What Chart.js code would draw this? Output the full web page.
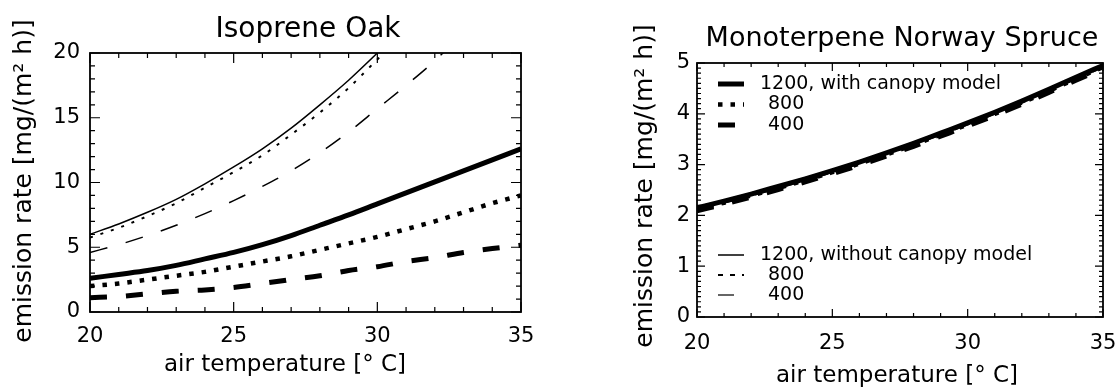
<!DOCTYPE html>
<html>
<head>
<meta charset="utf-8">
<script src="https://cdn.jsdelivr.net/npm/chart.js@4.4.1/dist/chart.umd.min.js"></script>
<style>
  body { margin: 0; background: #fff; width: 1116px; height: 389px; overflow: hidden; position: relative; }
  canvas { position: absolute; top: 0; }
  #oak { left: 0; }
  #spruce { left: 600px; }
</style>
</head>
<body>
<canvas id="oak" width="560" height="389"></canvas>
<canvas id="spruce" width="516" height="389"></canvas>
<script>
// air temperature [°C]
const temps = [20, 21, 22, 23, 24, 25, 26, 27, 28, 29, 30, 31, 32, 33, 34, 35];
const xTicks = [20, 25, 30, 35];

// Isoprene Oak, emission rate [mg/(m2 h)] (thin lines leave the plot at 20)
const oakWith1200 = [2.6, 2.9, 3.2, 3.6, 4.1, 4.6, 5.2, 5.9, 6.7, 7.5, 8.35, 9.2, 10.05, 10.9, 11.75, 12.6];
const oakWith800  = [2.0, 2.2, 2.5, 2.8, 3.1, 3.5, 3.9, 4.3, 4.8, 5.3, 5.8, 6.4, 7.0, 7.7, 8.4, 9.0];
const oakWith400  = [1.1, 1.2, 1.4, 1.6, 1.7, 1.9, 2.2, 2.5, 2.8, 3.2, 3.5, 3.9, 4.2, 4.6, 4.9, 5.15];
const oakWithout1200 = [6.0, 6.8, 7.7, 8.7, 9.9, 11.2, 12.6, 14.2, 16.0, 17.9, 20.0, 22.2, null, null, null, null];
const oakWithout800  = [5.75, 6.5, 7.4, 8.4, 9.6, 10.8, 12.1, 13.7, 15.4, 17.3, 19.5, 21.7, null, null, null, null];
const oakWithout400  = [4.6, 5.2, 5.9, 6.7, 7.6, 8.6, 9.7, 10.9, 12.3, 13.9, 15.7, 17.5, 19.4, 21.6, null, null];

// Monoterpene Norway Spruce
const spruceWith1200 = [2.15, 2.28, 2.42, 2.57, 2.72, 2.88, 3.05, 3.23, 3.42, 3.62, 3.82, 4.03, 4.25, 4.48, 4.72, 4.95];
const spruceWith800  = [2.12, 2.25, 2.39, 2.54, 2.69, 2.85, 3.02, 3.20, 3.39, 3.59, 3.79, 4.00, 4.22, 4.45, 4.69, 4.92];
const spruceWith400  = [2.09, 2.22, 2.36, 2.51, 2.66, 2.82, 2.99, 3.17, 3.36, 3.56, 3.76, 3.97, 4.19, 4.42, 4.66, 4.89];
const spruceWithout1200 = [2.17, 2.30, 2.44, 2.59, 2.74, 2.90, 3.07, 3.25, 3.44, 3.64, 3.84, 4.05, 4.27, 4.50, 4.74, 4.97];
const spruceWithout800  = [2.14, 2.27, 2.41, 2.56, 2.71, 2.87, 3.04, 3.22, 3.41, 3.61, 3.81, 4.02, 4.24, 4.47, 4.71, 4.94];
const spruceWithout400  = [2.11, 2.24, 2.38, 2.53, 2.68, 2.84, 3.01, 3.19, 3.38, 3.58, 3.78, 3.99, 4.21, 4.44, 4.68, 4.91];

const FONT = '"DejaVu Sans", sans-serif';
Chart.defaults.font.family = FONT;
Chart.defaults.color = '#000';

function line(label, ys, width, dash) {
  return {
    label: label,
    data: temps.map((t, i) => ({ x: t, y: ys[i] })),
    borderColor: '#000',
    borderWidth: width,
    borderDash: dash || [],
    borderCapStyle: 'butt',
    pointRadius: 0,
    cubicInterpolationMode: 'monotone',
    fill: false,
    clip: 0
  };
}

// box round the plot with inward ticks on all four sides
const framePlugin = {
  id: 'frame',
  afterDatasetsDraw(chart, args, o) {
    const { ctx, chartArea: a, scales: { x, y } } = chart;
    ctx.save();
    ctx.strokeStyle = '#000';
    ctx.lineWidth = 1.2;
    ctx.beginPath();
    const n = Math.round((x.max - x.min) / o.xMinor);
    for (let i = 0; i <= n; i++) {
      const v = x.min + i * o.xMinor;
      const px = x.getPixelForValue(v);
      const len = Math.abs(v / o.xMajor - Math.round(v / o.xMajor)) < 1e-6 ? o.major : o.minor;
      ctx.moveTo(px, a.bottom); ctx.lineTo(px, a.bottom - len);
      ctx.moveTo(px, a.top); ctx.lineTo(px, a.top + len);
    }
    const m = Math.round((y.max - y.min) / o.yMinor);
    for (let i = 0; i <= m; i++) {
      const v = y.min + i * o.yMinor;
      const py = y.getPixelForValue(v);
      const len = Math.abs(v / o.yMajor - Math.round(v / o.yMajor)) < 1e-6 ? o.major : o.minor;
      ctx.moveTo(a.left, py); ctx.lineTo(a.left + len, py);
      ctx.moveTo(a.right, py); ctx.lineTo(a.right - len, py);
    }
    ctx.stroke();
    ctx.lineWidth = 1.8;
    ctx.strokeRect(a.left, a.top, a.right - a.left, a.bottom - a.top);
    ctx.restore();
  }
};

// chart title and axis titles
const textPlugin = {
  id: 'texts',
  afterDraw(chart, args, o) {
    const ctx = chart.ctx;
    ctx.save();
    ctx.fillStyle = '#000';
    ctx.textAlign = 'center';
    ctx.textBaseline = 'alphabetic';
    ctx.font = o.titleSize + 'px ' + FONT;
    ctx.fillText(o.title, o.titleX, o.titleY);
    ctx.textBaseline = 'middle';
    ctx.font = '23px ' + FONT;
    ctx.fillText('air temperature [° C]', o.xTitleX, o.xTitleY);
    ctx.translate(o.yTitleX, o.yTitleY);
    ctx.rotate(-Math.PI / 2);
    ctx.font = '25px ' + FONT;
    ctx.fillText('emission rate [mg/(m² h)]', 0, 0);
    ctx.restore();
  }
};

// legend drawn inside the plot, in two groups
const legendPlugin = {
  id: 'insideLegend',
  afterDraw(chart, args, o) {
    if (!o.groups) return;
    const { ctx, chartArea: a } = chart;
    ctx.save();
    ctx.font = '19px ' + FONT;
    ctx.fillStyle = '#000';
    ctx.strokeStyle = '#000';
    ctx.textBaseline = 'middle';
    o.groups.forEach(g => {
      g.items.forEach((idx, row) => {
        const ds = chart.data.datasets[idx];
        const yy = a.top + g.top + row * g.gap;
        ctx.beginPath();
        ctx.lineWidth = ds.borderWidth;
        ctx.setLineDash(ds.borderDash);
        ctx.moveTo(a.left + 21, yy);
        ctx.lineTo(a.left + 47, yy);
        ctx.stroke();
        ctx.setLineDash([]);
        ctx.fillText(ds.label, a.left + (row ? 71 : 63), yy);
      });
    });
    ctx.restore();
  }
};

function scales(yMax, yStep, yAxisWidth, xAxisHeight, yPad, xPad) {
  return {
    x: {
      type: 'linear', min: 20, max: 35,
      grid: { display: false, drawTicks: false },
      border: { display: false },
      afterBuildTicks: s => { s.ticks = xTicks.map(v => ({ value: v })); },
      ticks: { font: { size: 21 }, padding: xPad, maxRotation: 0 },
      afterFit: s => { s.height = xAxisHeight; s.paddingLeft = 0; s.paddingRight = 0; }
    },
    y: {
      type: 'linear', min: 0, max: yMax,
      grid: { display: false, drawTicks: false },
      border: { display: false },
      ticks: { stepSize: yStep, font: { size: 21 }, padding: yPad },
      afterFit: s => { s.width = yAxisWidth; s.paddingTop = 0; s.paddingBottom = 0; }
    }
  };
}

new Chart(document.getElementById('oak'), {
  type: 'line',
  data: {
    datasets: [
      line('1200, with canopy model', oakWith1200, 5),
      line('800', oakWith800, 4.5, [4.5, 8]),
      line('400', oakWith400, 5, [17, 19]),
      line('1200, without canopy model', oakWithout1200, 1.5),
      line('800', oakWithout800, 2, [3, 8]),
      line('400', oakWithout400, 1.5, [18, 19])
    ]
  },
  options: {
    responsive: false,
    animation: false,
    devicePixelRatio: 1,
    layout: { padding: { left: 0, right: 39, top: 53, bottom: 0 } },
    scales: scales(20, 5, 90, 77, 10, 12),
    plugins: {
      legend: { display: false },
      tooltip: { enabled: false },
      frame: { xMinor: 1, xMajor: 5, yMinor: 1, yMajor: 5, major: 10, minor: 5 },
      texts: { title: 'Isoprene Oak', titleSize: 28, titleX: 308, titleY: 37,
               xTitleX: 285, xTitleY: 365, yTitleX: 24, yTitleY: 181 }
    }
  },
  plugins: [framePlugin, textPlugin]
});

new Chart(document.getElementById('spruce'), {
  type: 'line',
  data: {
    datasets: [
      line('1200, with canopy model', spruceWith1200, 5),
      line('800', spruceWith800, 4.5, [4.5, 8]),
      line('400', spruceWith400, 5, [17, 19]),
      line('1200, without canopy model', spruceWithout1200, 1.5),
      line('800', spruceWithout800, 2, [5, 7]),
      line('400', spruceWithout400, 1.2, [16, 14])
    ]
  },
  options: {
    responsive: false,
    animation: false,
    devicePixelRatio: 1,
    layout: { padding: { left: 0, right: 13, top: 63, bottom: 0 } },
    scales: scales(5, 1, 97, 72, 7, 14),
    plugins: {
      legend: { display: false },
      tooltip: { enabled: false },
      frame: { xMinor: 1, xMajor: 5, yMinor: 0.1, yMajor: 1, major: 8, minor: 4 },
      texts: { title: 'Monoterpene Norway Spruce', titleSize: 27, titleX: 302, titleY: 46,
               xTitleX: 297, xTitleY: 376, yTitleX: 45, yTitleY: 186 },
      insideLegend: { groups: [
        { items: [0, 1, 2], top: 21, gap: 20.5 },
        { items: [3, 4, 5], top: 192, gap: 20 }
      ] }
    }
  },
  plugins: [framePlugin, textPlugin, legendPlugin]
});
</script>
</body>
</html>
